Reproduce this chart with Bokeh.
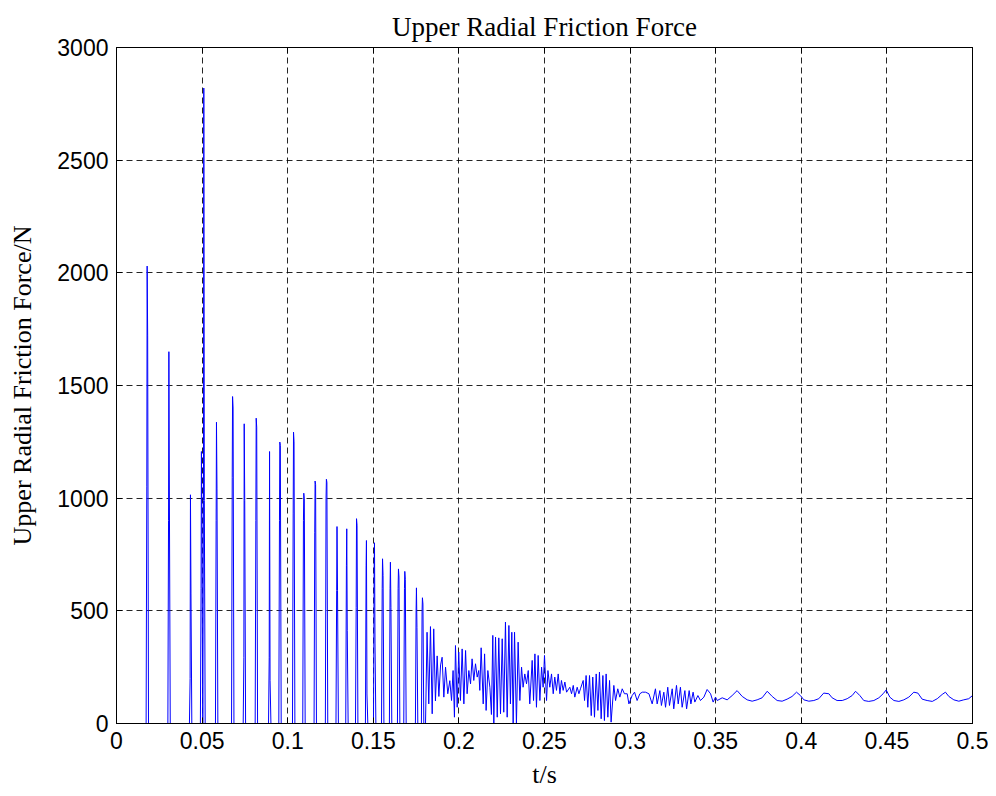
from bokeh.plotting import figure
from bokeh.models import FixedTicker, LinearAxis, Range1d
from bokeh.embed import file_html
from bokeh.resources import INLINE

# ---------------- data ----------------
# isolated impact spikes, t in s, forces in N
spike_t    = [0.0179, 0.0306, 0.0432, 0.0496, 0.0510, 0.0584, 0.0678, 0.0746, 0.0816,
              0.0894, 0.0954, 0.1034, 0.1094, 0.1160, 0.1226, 0.1288, 0.1345, 0.1402,
              0.1460, 0.1507, 0.1554, 0.1600, 0.1647, 0.1684, 0.1752, 0.1787]
spike_lead = [1050, 900, 200, 600, 990, 900, 1093, 294, 900,
              294, 900, 930, 900, 849, 1000, 590, 700, 516,
              700, 700, 600, 600, 600, 600, 500, 500]
spike_peak = [2030, 1650, 1015, 1207, 2820, 1337, 1451, 1330, 1355,
              1207, 1249, 1293, 1022, 1076, 1084, 874, 864, 909,
              812, 802, 731, 716, 686, 675, 602, 558]
spike_tail = [1720, 1000, 575, 900, 990, 1041, 1400, 990, 1315,
              190, 1234, 1250, 997, 1060, 1070, 590, 412, 880,
              131, 353, 657, 516, 650, 640, 427, 530]

# continuous contact part of the record
cont_t = [0.1805, 0.1814, 0.1824, 0.1834, 0.1844, 0.1853, 0.1863, 0.1873, 0.1883, 0.1893,
          0.1902, 0.1912, 0.1922, 0.1935, 0.1947, 0.1957, 0.1966, 0.1974, 0.1980, 0.1990,
          0.1999, 0.2009, 0.2019, 0.2029, 0.2039, 0.2048, 0.2058, 0.2068, 0.2077, 0.2087,
          0.2097, 0.2107, 0.2116, 0.2122, 0.2130, 0.2142, 0.2150, 0.2159, 0.2169, 0.2181,
          0.2190, 0.2198, 0.2204, 0.2214, 0.2224, 0.2233, 0.2243, 0.2253, 0.2262, 0.2272,
          0.2282, 0.2292, 0.2301, 0.2309, 0.2317, 0.2325, 0.2336, 0.2346, 0.2356, 0.2366,
          0.2375, 0.2385, 0.2395, 0.2405, 0.2414, 0.2428, 0.2436, 0.2444, 0.2453, 0.2463,
          0.2473, 0.2483, 0.2492, 0.2500, 0.2512, 0.2520, 0.2531, 0.2541, 0.2551, 0.2560,
          0.2570, 0.2580, 0.2590, 0.2599, 0.2609, 0.2619, 0.2629, 0.2648, 0.2658, 0.2668,
          0.2677, 0.2691, 0.2701, 0.2710, 0.2726, 0.2734, 0.2743, 0.2753, 0.2763, 0.2773,
          0.2782, 0.2792, 0.2802, 0.2812, 0.2821, 0.2831, 0.2841, 0.2850, 0.2860, 0.2870,
          0.2880, 0.2889, 0.2905, 0.2915, 0.2928, 0.2940, 0.2954, 0.2967, 0.2983, 0.2993,
          0.3012, 0.3026, 0.3041, 0.3057, 0.3071, 0.3090, 0.3110, 0.3129, 0.3148, 0.3158,
          0.3174, 0.3183, 0.3197, 0.3207, 0.3220, 0.3230, 0.3246, 0.3255, 0.3271, 0.3281,
          0.3294, 0.3304, 0.3320, 0.3330, 0.3345, 0.3355, 0.3368, 0.3378, 0.3396, 0.3411,
          0.3431, 0.3450, 0.3470, 0.3485, 0.3499, 0.3509, 0.3538, 0.3567, 0.3596, 0.3625,
          0.3655, 0.3684, 0.3713, 0.3742, 0.3771, 0.3801, 0.3830, 0.3859, 0.3888, 0.3917,
          0.3946, 0.3972, 0.3995, 0.4015, 0.4044, 0.4073, 0.4102, 0.4131, 0.4161, 0.4180,
          0.4209, 0.4239, 0.4268, 0.4297, 0.4317, 0.4342, 0.4365, 0.4394, 0.4424, 0.4453,
          0.4478, 0.4496, 0.4517, 0.4541, 0.4570, 0.4599, 0.4628, 0.4657, 0.4681, 0.4706,
          0.4735, 0.4765, 0.4794, 0.4823, 0.4842, 0.4862, 0.4891, 0.4920, 0.4949, 0.4978,
          0.5000]
cont_f = [0, 405, 87, 430, 43, 420, 100, 300, 120, 260,
          294, 117, 250, 132, 190, 102, 235, 28, 346, 72,
          317, 102, 331, 87, 324, 132, 235, 176, 287, 191,
          265, 206, 235, 147, 336, 87, 309, 58, 235, 161,
          40, 391, 0, 383, 28, 380, 43, 376, 50, 450,
          28, 435, 87, 405, 0, 405, 0, 361, 102, 250,
          161, 220, 176, 235, 87, 280, 102, 309, 72, 302,
          102, 250, 161, 302, 102, 235, 161, 220, 132, 206,
          147, 220, 132, 191, 147, 184, 139, 161, 132, 169,
          117, 161, 132, 154, 191, 102, 213, 72, 213, 35,
          206, 28, 220, 58, 228, 21, 213, 13, 220, 28,
          191, 6, 169, 102, 154, 117, 154, 132, 132, 87,
          124, 139, 102, 132, 139, 139, 132, 87, 154, 87,
          146, 80, 139, 72, 161, 80, 154, 65, 169, 87,
          161, 72, 146, 65, 146, 87, 139, 95, 124, 102,
          117, 151, 132, 95, 117, 102, 114, 105, 124, 146,
          120, 105, 99, 105, 114, 143, 120, 102, 99, 108,
          120, 139, 124, 105, 99, 102, 110, 135, 132, 114,
          102, 102, 110, 124, 143, 124, 102, 98, 102, 114,
          132, 149, 117, 102, 98, 105, 117, 139, 135, 108,
          102, 98, 110, 129, 139, 120, 105, 99, 105, 110,
          124]

x_ticks = [0, 0.05, 0.1, 0.15, 0.2, 0.25, 0.3, 0.35, 0.4, 0.45, 0.5]
x_tick_labels = ["0", "0.05", "0.1", "0.15", "0.2", "0.25", "0.3", "0.35", "0.4", "0.45", "0.5"]
y_ticks = [0, 500, 1000, 1500, 2000, 2500, 3000]
y_tick_labels = ["0", "500", "1000", "1500", "2000", "2500", "3000"]

# ---------------- assemble the record ----------------
t = [0.0]
f = [0.0]
for st, ld, pk, tl in zip(spike_t, spike_lead, spike_peak, spike_tail):
    t += [st - 0.0006, st - 0.0002, st, st + 0.0003, st + 0.0008]
    f += [0, ld, pk, tl, 0]
t += cont_t
f += cont_f

# ---------------- figure ----------------
p = figure(width=988, height=792, output_backend="svg", toolbar_location=None,
           x_range=Range1d(0, 0.5), y_range=Range1d(0, 3000),
           title="Upper Radial Friction Force",
           min_border_left=116, min_border_right=16, min_border_top=47, min_border_bottom=69,
           background_fill_color="white", border_fill_color="white")

p.title.align = "center"
p.title.vertical_align = "top"
p.title.text_font = "Liberation Serif"
p.title.text_font_size = "27px"
p.title.text_font_style = "normal"
p.title.text_color = "black"
p.title.standoff = 8

p.line(t, f, line_color="#0000ff", line_width=1)

tick_font = "Liberation Sans"
for ax, ticks, labels in ((p.xaxis[0], x_ticks, x_tick_labels), (p.yaxis[0], y_ticks, y_tick_labels)):
    ax.ticker = FixedTicker(ticks=ticks)
    ax.major_label_overrides = {k: v for k, v in zip(ticks, labels)}
    ax.major_label_text_font = tick_font
    ax.major_label_text_font_size = "23px"
    ax.major_label_text_color = "black"
    ax.major_tick_in = 6
    ax.major_tick_out = 0
    ax.minor_tick_in = 0
    ax.minor_tick_out = 0
    ax.axis_line_color = "black"
    ax.major_tick_line_color = "black"
    ax.axis_label_text_font = "Liberation Serif"
    ax.axis_label_text_font_size = "26px"
    ax.axis_label_text_font_style = "normal"
    ax.axis_label_text_color = "black"

p.xaxis.axis_label = "t/s"
p.xaxis.major_label_standoff = 8
p.xaxis.axis_label_standoff = 8
p.yaxis.axis_label = "Upper Radial Friction Force/N"
p.yaxis.major_label_standoff = 8
p.yaxis.axis_label_standoff = 17

# box ticks on top and right (MATLAB style)
for loc, ticks in (("right", y_ticks), ("above", x_ticks)):
    ax = LinearAxis(ticker=FixedTicker(ticks=ticks),
                    major_label_overrides={k: "" for k in ticks},
                    major_label_standoff=0,
                    major_tick_in=6, major_tick_out=0, minor_tick_in=0, minor_tick_out=0,
                    axis_line_color="black", major_tick_line_color="black")
    p.add_layout(ax, loc)

p.xgrid.ticker = FixedTicker(ticks=x_ticks)
p.ygrid.ticker = FixedTicker(ticks=y_ticks)
p.grid.grid_line_color = "black"
p.grid.grid_line_dash = "6 4"
p.grid.grid_line_width = 1
p.grid.grid_line_alpha = 0.85

p.outline_line_color = "black"
p.outline_line_width = 1

open("out.html", "w").write(file_html(p, INLINE))
